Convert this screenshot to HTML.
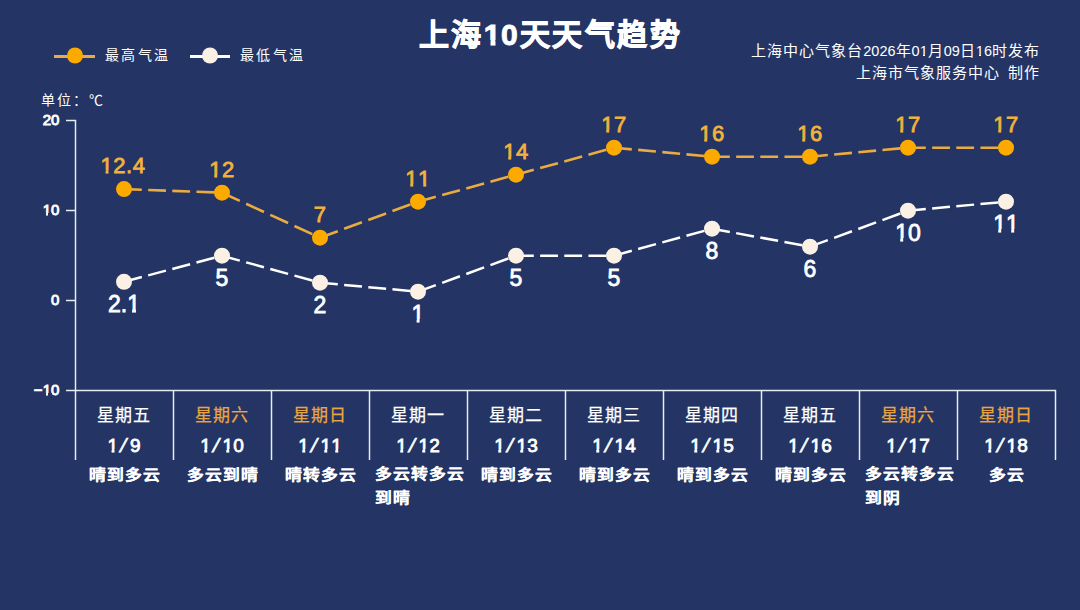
<!DOCTYPE html>
<html lang="zh-CN"><head><meta charset="utf-8"><style>
html,body{margin:0;padding:0;width:1080px;height:610px;overflow:hidden;background:#243464;font-family:"Liberation Sans",sans-serif}
body>div{position:absolute;white-space:nowrap;line-height:1.2}
.c{transform:translateX(-50%)}
.d{letter-spacing:0;font-size:14.5px}
.sl{display:inline-block;transform:skewX(-15deg);margin:0 4.2px 0 2.3px}
.o{position:relative}
.o::before,.o::after{content:"";position:absolute;background:#243464;-webkit-text-stroke:0;bottom:calc(0.212em - var(--s)/2 - 1.2px);height:calc(0.0745em + var(--s) + 1.9px)}
.o::before{left:calc(0.06em - var(--s)/2 - 1.2px);width:calc(0.191em + 0.9px)}
.o::after{left:calc(0.339em + var(--s)/2 + 0.3px);width:calc(0.17em + 1px)}
.ob::before,.ob::after{height:calc(0.102em + var(--s) + 1.9px)}
.ob::before{left:calc(0.053em - var(--s)/2 - 1.2px);width:calc(0.18em + 1.2px)}
.ob::after{left:calc(0.371em + var(--s)/2 + 0.3px);width:calc(0.156em + 1.5px)}
</style></head><body>
<svg width="1080" height="610" style="position:absolute;left:0;top:0"><path d="M66 120.5H75.5V460M66 210.5H75M66 300.5H75M66 390.5H1055.5V460" fill="none" stroke="#e6ecf2" stroke-width="1.5"/><path d="M173.5 390.5V460" stroke="#e6ecf2" stroke-width="1.5"/><path d="M271.5 390.5V460" stroke="#e6ecf2" stroke-width="1.5"/><path d="M369.5 390.5V460" stroke="#e6ecf2" stroke-width="1.5"/><path d="M467.5 390.5V460" stroke="#e6ecf2" stroke-width="1.5"/><path d="M565.5 390.5V460" stroke="#e6ecf2" stroke-width="1.5"/><path d="M663.5 390.5V460" stroke="#e6ecf2" stroke-width="1.5"/><path d="M761.5 390.5V460" stroke="#e6ecf2" stroke-width="1.5"/><path d="M859.5 390.5V460" stroke="#e6ecf2" stroke-width="1.5"/><path d="M957.5 390.5V460" stroke="#e6ecf2" stroke-width="1.5"/><line x1="124" y1="189.1" x2="222" y2="192.7" stroke="#eaab40" stroke-width="2.6" pathLength="98" stroke-dasharray="17.8 6.35"/><line x1="124" y1="281.8" x2="222" y2="255.7" stroke="#ffffff" stroke-width="2.5" pathLength="98" stroke-dasharray="17.8 6.35"/><line x1="222" y1="192.7" x2="320" y2="237.7" stroke="#eaab40" stroke-width="2.6" pathLength="98" stroke-dasharray="17.8 6.35"/><line x1="222" y1="255.7" x2="320" y2="282.7" stroke="#ffffff" stroke-width="2.5" pathLength="98" stroke-dasharray="17.8 6.35"/><line x1="320" y1="237.7" x2="418" y2="201.7" stroke="#eaab40" stroke-width="2.6" pathLength="98" stroke-dasharray="17.8 6.35"/><line x1="320" y1="282.7" x2="418" y2="291.7" stroke="#ffffff" stroke-width="2.5" pathLength="98" stroke-dasharray="17.8 6.35"/><line x1="418" y1="201.7" x2="516" y2="174.7" stroke="#eaab40" stroke-width="2.6" pathLength="98" stroke-dasharray="17.8 6.35"/><line x1="418" y1="291.7" x2="516" y2="255.7" stroke="#ffffff" stroke-width="2.5" pathLength="98" stroke-dasharray="17.8 6.35"/><line x1="516" y1="174.7" x2="614" y2="147.7" stroke="#eaab40" stroke-width="2.6" pathLength="98" stroke-dasharray="17.8 6.35"/><line x1="516" y1="255.7" x2="614" y2="255.7" stroke="#ffffff" stroke-width="2.5" pathLength="98" stroke-dasharray="17.8 6.35"/><line x1="614" y1="147.7" x2="712" y2="156.7" stroke="#eaab40" stroke-width="2.6" pathLength="98" stroke-dasharray="17.8 6.35"/><line x1="614" y1="255.7" x2="712" y2="228.7" stroke="#ffffff" stroke-width="2.5" pathLength="98" stroke-dasharray="17.8 6.35"/><line x1="712" y1="156.7" x2="810" y2="156.7" stroke="#eaab40" stroke-width="2.6" pathLength="98" stroke-dasharray="17.8 6.35"/><line x1="712" y1="228.7" x2="810" y2="246.7" stroke="#ffffff" stroke-width="2.5" pathLength="98" stroke-dasharray="17.8 6.35"/><line x1="810" y1="156.7" x2="908" y2="147.7" stroke="#eaab40" stroke-width="2.6" pathLength="98" stroke-dasharray="17.8 6.35"/><line x1="810" y1="246.7" x2="908" y2="210.7" stroke="#ffffff" stroke-width="2.5" pathLength="98" stroke-dasharray="17.8 6.35"/><line x1="908" y1="147.7" x2="1006" y2="147.7" stroke="#eaab40" stroke-width="2.6" pathLength="98" stroke-dasharray="17.8 6.35"/><line x1="908" y1="210.7" x2="1006" y2="201.7" stroke="#ffffff" stroke-width="2.5" pathLength="98" stroke-dasharray="17.8 6.35"/><circle cx="124" cy="189.1" r="8" fill="#fcaa00"/><circle cx="124" cy="281.8" r="8" fill="#faf1e4"/><circle cx="222" cy="192.7" r="8" fill="#fcaa00"/><circle cx="222" cy="255.7" r="8" fill="#faf1e4"/><circle cx="320" cy="237.7" r="8" fill="#fcaa00"/><circle cx="320" cy="282.7" r="8" fill="#faf1e4"/><circle cx="418" cy="201.7" r="8" fill="#fcaa00"/><circle cx="418" cy="291.7" r="8" fill="#faf1e4"/><circle cx="516" cy="174.7" r="8" fill="#fcaa00"/><circle cx="516" cy="255.7" r="8" fill="#faf1e4"/><circle cx="614" cy="147.7" r="8" fill="#fcaa00"/><circle cx="614" cy="255.7" r="8" fill="#faf1e4"/><circle cx="712" cy="156.7" r="8" fill="#fcaa00"/><circle cx="712" cy="228.7" r="8" fill="#faf1e4"/><circle cx="810" cy="156.7" r="8" fill="#fcaa00"/><circle cx="810" cy="246.7" r="8" fill="#faf1e4"/><circle cx="908" cy="147.7" r="8" fill="#fcaa00"/><circle cx="908" cy="210.7" r="8" fill="#faf1e4"/><circle cx="1006" cy="147.7" r="8" fill="#fcaa00"/><circle cx="1006" cy="201.7" r="8" fill="#faf1e4"/><path d="M54 56.5H95" stroke="#eaab40" stroke-width="3"/><circle cx="75" cy="55.5" r="8" fill="#fcaa00"/><path d="M190 56.5H230" stroke="#ffffff" stroke-width="3"/><circle cx="210" cy="55.5" r="8" fill="#faf1e4"/></svg>
<div class="c" style="left:550.5px;top:17px;font-size:30px;font-weight:bold;letter-spacing:2.4px;color:#fff;-webkit-text-stroke:0.9px #fff;line-height:36px">上海<span class="o ob" style="--s:0.9px;letter-spacing:0.4px">1</span>0天天气趋势</div><div style="left:105px;top:46px;font-size:14px;letter-spacing:2.4px;color:#fff;line-height:18px">最高气温</div><div style="left:240px;top:46px;font-size:14px;letter-spacing:2.4px;color:#fff;line-height:18px">最低气温</div><div style="right:40px;top:40px;font-size:15px;letter-spacing:1px;color:#fff;text-align:right;line-height:22px">上海中心气象台<span class="d">2026</span>年<span class="d">0<span class="o" style="--s:0px">1</span></span>月<span class="d">09</span>日<span class="d"><span class="o" style="--s:0px">1</span>6</span>时发布<br>上海市气象服务中心<span style="margin-left:8px"></span>制作</div><div style="left:41px;top:92px;font-size:14px;letter-spacing:2px;color:#fff;line-height:16px">单位：℃</div><div style="right:1020.7px;top:110.3px;font-size:15px;color:#fff;-webkit-text-stroke:0.9px #fff;line-height:20px">20</div><div style="right:1020.7px;top:200.3px;font-size:15px;color:#fff;-webkit-text-stroke:0.9px #fff;line-height:20px"><span class="o" style="--s:0.9px">1</span>0</div><div style="right:1020.7px;top:290.3px;font-size:15px;color:#fff;-webkit-text-stroke:0.9px #fff;line-height:20px">0</div><div style="right:1020.7px;top:380.3px;font-size:15px;color:#fff;-webkit-text-stroke:0.9px #fff;line-height:20px">−<span class="o" style="--s:0.9px">1</span>0</div><div class="c" style="left:123px;top:151.6px;font-size:22px;color:#f2b23c;-webkit-text-stroke:0.8px #f2b23c;letter-spacing:0.5px;line-height:28px"><span class="o" style="--s:0.8px">1</span>2.4</div><div class="c" style="left:124px;top:289.8px;font-size:23px;color:#fff;-webkit-text-stroke:0.8px #fff;line-height:28px">2.<span class="o" style="--s:0.8px">1</span></div><div class="c" style="left:124px;top:404px;font-size:17px;color:#fff;-webkit-text-stroke:0.25px #fff;letter-spacing:1px;line-height:24px">星期五</div><div class="c" style="left:124px;top:433.5px;font-size:19px;color:#fff;-webkit-text-stroke:0.8px #fff;line-height:24px"><span class="o" style="--s:0.8px">1</span><span class=sl>/</span>9</div><div class="c" style="left:124.6px;top:462.5px;font-size:16px;font-weight:bold;color:#fff;-webkit-text-stroke:0.2px #fff;letter-spacing:1.14px;line-height:23.4px;transform:translateX(-50%) scale(1.05,0.91)">晴到多云</div><div class="c" style="left:222px;top:156.2px;font-size:22px;color:#f2b23c;-webkit-text-stroke:0.8px #f2b23c;letter-spacing:0.5px;line-height:28px"><span class="o" style="--s:0.8px">1</span>2</div><div class="c" style="left:222px;top:263.7px;font-size:23px;color:#fff;-webkit-text-stroke:0.8px #fff;line-height:28px">5</div><div class="c" style="left:222px;top:404px;font-size:17px;color:#eaa540;-webkit-text-stroke:0.25px #eaa540;letter-spacing:1px;line-height:24px">星期六</div><div class="c" style="left:222px;top:433.5px;font-size:19px;color:#fff;-webkit-text-stroke:0.8px #fff;line-height:24px"><span class="o" style="--s:0.8px">1</span><span class=sl>/</span><span class="o" style="--s:0.8px">1</span>0</div><div class="c" style="left:222.6px;top:462.5px;font-size:16px;font-weight:bold;color:#fff;-webkit-text-stroke:0.2px #fff;letter-spacing:1.14px;line-height:23.4px;transform:translateX(-50%) scale(1.05,0.91)">多云到晴</div><div class="c" style="left:320px;top:201.2px;font-size:22px;color:#f2b23c;-webkit-text-stroke:0.8px #f2b23c;letter-spacing:0.5px;line-height:28px">7</div><div class="c" style="left:320px;top:290.7px;font-size:23px;color:#fff;-webkit-text-stroke:0.8px #fff;line-height:28px">2</div><div class="c" style="left:320px;top:404px;font-size:17px;color:#eaa540;-webkit-text-stroke:0.25px #eaa540;letter-spacing:1px;line-height:24px">星期日</div><div class="c" style="left:320px;top:433.5px;font-size:19px;color:#fff;-webkit-text-stroke:0.8px #fff;line-height:24px"><span class="o" style="--s:0.8px">1</span><span class=sl>/</span><span class="o" style="--s:0.8px">1</span><span class="o" style="--s:0.8px">1</span></div><div class="c" style="left:320.6px;top:462.5px;font-size:16px;font-weight:bold;color:#fff;-webkit-text-stroke:0.2px #fff;letter-spacing:1.14px;line-height:23.4px;transform:translateX(-50%) scale(1.05,0.91)">晴转多云</div><div class="c" style="left:418px;top:165.2px;font-size:22px;color:#f2b23c;-webkit-text-stroke:0.8px #f2b23c;letter-spacing:0.5px;line-height:28px"><span class="o" style="--s:0.8px">1</span><span class="o" style="--s:0.8px">1</span></div><div class="c" style="left:418px;top:299.7px;font-size:23px;color:#fff;-webkit-text-stroke:0.8px #fff;line-height:28px"><span class="o" style="--s:0.8px">1</span></div><div class="c" style="left:418px;top:404px;font-size:17px;color:#fff;-webkit-text-stroke:0.25px #fff;letter-spacing:1px;line-height:24px">星期一</div><div class="c" style="left:418px;top:433.5px;font-size:19px;color:#fff;-webkit-text-stroke:0.8px #fff;line-height:24px"><span class="o" style="--s:0.8px">1</span><span class=sl>/</span><span class="o" style="--s:0.8px">1</span>2</div><div style="left:375px;top:462.5px;font-size:16px;font-weight:bold;color:#fff;-webkit-text-stroke:0.2px #fff;letter-spacing:1.14px;line-height:25.7px;transform-origin:0 0;transform:scale(1.05,0.91)">多云转多云<br>到晴</div><div class="c" style="left:516px;top:138.2px;font-size:22px;color:#f2b23c;-webkit-text-stroke:0.8px #f2b23c;letter-spacing:0.5px;line-height:28px"><span class="o" style="--s:0.8px">1</span>4</div><div class="c" style="left:516px;top:263.7px;font-size:23px;color:#fff;-webkit-text-stroke:0.8px #fff;line-height:28px">5</div><div class="c" style="left:516px;top:404px;font-size:17px;color:#fff;-webkit-text-stroke:0.25px #fff;letter-spacing:1px;line-height:24px">星期二</div><div class="c" style="left:516px;top:433.5px;font-size:19px;color:#fff;-webkit-text-stroke:0.8px #fff;line-height:24px"><span class="o" style="--s:0.8px">1</span><span class=sl>/</span><span class="o" style="--s:0.8px">1</span>3</div><div class="c" style="left:516.6px;top:462.5px;font-size:16px;font-weight:bold;color:#fff;-webkit-text-stroke:0.2px #fff;letter-spacing:1.14px;line-height:23.4px;transform:translateX(-50%) scale(1.05,0.91)">晴到多云</div><div class="c" style="left:614px;top:111.2px;font-size:22px;color:#f2b23c;-webkit-text-stroke:0.8px #f2b23c;letter-spacing:0.5px;line-height:28px"><span class="o" style="--s:0.8px">1</span>7</div><div class="c" style="left:614px;top:263.7px;font-size:23px;color:#fff;-webkit-text-stroke:0.8px #fff;line-height:28px">5</div><div class="c" style="left:614px;top:404px;font-size:17px;color:#fff;-webkit-text-stroke:0.25px #fff;letter-spacing:1px;line-height:24px">星期三</div><div class="c" style="left:614px;top:433.5px;font-size:19px;color:#fff;-webkit-text-stroke:0.8px #fff;line-height:24px"><span class="o" style="--s:0.8px">1</span><span class=sl>/</span><span class="o" style="--s:0.8px">1</span>4</div><div class="c" style="left:614.6px;top:462.5px;font-size:16px;font-weight:bold;color:#fff;-webkit-text-stroke:0.2px #fff;letter-spacing:1.14px;line-height:23.4px;transform:translateX(-50%) scale(1.05,0.91)">晴到多云</div><div class="c" style="left:712px;top:120.2px;font-size:22px;color:#f2b23c;-webkit-text-stroke:0.8px #f2b23c;letter-spacing:0.5px;line-height:28px"><span class="o" style="--s:0.8px">1</span>6</div><div class="c" style="left:712px;top:236.7px;font-size:23px;color:#fff;-webkit-text-stroke:0.8px #fff;line-height:28px">8</div><div class="c" style="left:712px;top:404px;font-size:17px;color:#fff;-webkit-text-stroke:0.25px #fff;letter-spacing:1px;line-height:24px">星期四</div><div class="c" style="left:712px;top:433.5px;font-size:19px;color:#fff;-webkit-text-stroke:0.8px #fff;line-height:24px"><span class="o" style="--s:0.8px">1</span><span class=sl>/</span><span class="o" style="--s:0.8px">1</span>5</div><div class="c" style="left:712.6px;top:462.5px;font-size:16px;font-weight:bold;color:#fff;-webkit-text-stroke:0.2px #fff;letter-spacing:1.14px;line-height:23.4px;transform:translateX(-50%) scale(1.05,0.91)">晴到多云</div><div class="c" style="left:810px;top:120.2px;font-size:22px;color:#f2b23c;-webkit-text-stroke:0.8px #f2b23c;letter-spacing:0.5px;line-height:28px"><span class="o" style="--s:0.8px">1</span>6</div><div class="c" style="left:810px;top:254.7px;font-size:23px;color:#fff;-webkit-text-stroke:0.8px #fff;line-height:28px">6</div><div class="c" style="left:810px;top:404px;font-size:17px;color:#fff;-webkit-text-stroke:0.25px #fff;letter-spacing:1px;line-height:24px">星期五</div><div class="c" style="left:810px;top:433.5px;font-size:19px;color:#fff;-webkit-text-stroke:0.8px #fff;line-height:24px"><span class="o" style="--s:0.8px">1</span><span class=sl>/</span><span class="o" style="--s:0.8px">1</span>6</div><div class="c" style="left:810.6px;top:462.5px;font-size:16px;font-weight:bold;color:#fff;-webkit-text-stroke:0.2px #fff;letter-spacing:1.14px;line-height:23.4px;transform:translateX(-50%) scale(1.05,0.91)">晴到多云</div><div class="c" style="left:908px;top:111.2px;font-size:22px;color:#f2b23c;-webkit-text-stroke:0.8px #f2b23c;letter-spacing:0.5px;line-height:28px"><span class="o" style="--s:0.8px">1</span>7</div><div class="c" style="left:908px;top:218.7px;font-size:23px;color:#fff;-webkit-text-stroke:0.8px #fff;line-height:28px"><span class="o" style="--s:0.8px">1</span>0</div><div class="c" style="left:908px;top:404px;font-size:17px;color:#eaa540;-webkit-text-stroke:0.25px #eaa540;letter-spacing:1px;line-height:24px">星期六</div><div class="c" style="left:908px;top:433.5px;font-size:19px;color:#fff;-webkit-text-stroke:0.8px #fff;line-height:24px"><span class="o" style="--s:0.8px">1</span><span class=sl>/</span><span class="o" style="--s:0.8px">1</span>7</div><div style="left:865px;top:462.5px;font-size:16px;font-weight:bold;color:#fff;-webkit-text-stroke:0.2px #fff;letter-spacing:1.14px;line-height:25.7px;transform-origin:0 0;transform:scale(1.05,0.91)">多云转多云<br>到阴</div><div class="c" style="left:1006px;top:111.2px;font-size:22px;color:#f2b23c;-webkit-text-stroke:0.8px #f2b23c;letter-spacing:0.5px;line-height:28px"><span class="o" style="--s:0.8px">1</span>7</div><div class="c" style="left:1006px;top:209.7px;font-size:23px;color:#fff;-webkit-text-stroke:0.8px #fff;line-height:28px"><span class="o" style="--s:0.8px">1</span><span class="o" style="--s:0.8px">1</span></div><div class="c" style="left:1006px;top:404px;font-size:17px;color:#eaa540;-webkit-text-stroke:0.25px #eaa540;letter-spacing:1px;line-height:24px">星期日</div><div class="c" style="left:1006px;top:433.5px;font-size:19px;color:#fff;-webkit-text-stroke:0.8px #fff;line-height:24px"><span class="o" style="--s:0.8px">1</span><span class=sl>/</span><span class="o" style="--s:0.8px">1</span>8</div><div class="c" style="left:1006.6px;top:462.5px;font-size:16px;font-weight:bold;color:#fff;-webkit-text-stroke:0.2px #fff;letter-spacing:1.14px;line-height:23.4px;transform:translateX(-50%) scale(1.05,0.91)">多云</div>
</body></html>
